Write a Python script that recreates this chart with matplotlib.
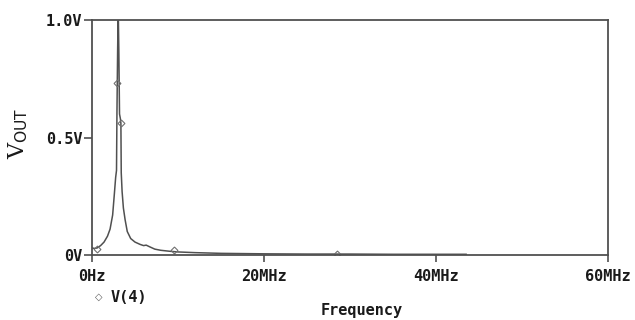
import matplotlib
matplotlib.use("Agg")
import matplotlib.pyplot as plt

# Data (MHz, volts)
freq_mhz = [0.0, 0.3, 0.6, 1.0, 1.4, 1.8, 2.1, 2.4, 2.6, 2.75, 2.85, 2.9, 2.98, 3.05,
            3.12, 3.2, 3.3, 3.36, 3.4, 3.5, 3.65, 3.85, 4.1, 4.5, 5.0, 5.6, 6.0, 6.3,
            6.7, 7.3, 8.0, 9.0, 10.0, 12.0, 15.0, 20.0, 25.0, 30.0, 35.0, 40.0, 43.5]
vout = [0.03, 0.028, 0.03, 0.04, 0.055, 0.08, 0.11, 0.17, 0.26, 0.33, 0.36, 0.6, 0.87, 1.05,
        0.87, 0.6, 0.58, 0.56, 0.35, 0.27, 0.2, 0.15, 0.1, 0.07, 0.055, 0.045, 0.04, 0.042,
        0.035, 0.025, 0.02, 0.016, 0.013, 0.01, 0.007, 0.005, 0.004, 0.004, 0.003, 0.003, 0.003]
marker_freq = [0.6, 2.85, 3.35, 9.5, 28.5]
marker_v = [0.025, 0.73, 0.56, 0.02, 0.005]

x_ticks = [0, 20, 40, 60]
x_tick_labels = ["0Hz", "20MHz", "40MHz", "60MHz"]
y_ticks = [0.0, 0.5, 1.0]
y_tick_labels = ["0V", "0.5V", "1.0V"]

fig = plt.figure(figsize=(6.35, 3.2), dpi=100)
ax = fig.add_axes([92/635, 65/320, (608-92)/635, (255-20)/320])
col = "#505050"
txtcol = "#1a1a1a"
ax.plot(freq_mhz, vout, color=col, lw=1.1, clip_on=True)
ax.plot(marker_freq, marker_v, ls="none", marker="D", ms=3.5, mfc="none", mec="#707070", mew=0.8)
ax.set_xlim(0, 60)
ax.set_ylim(0, 1.0)
ax.set_xticks(x_ticks)
ax.set_xticklabels(x_tick_labels)
ax.set_yticks(y_ticks)
ax.set_yticklabels(y_tick_labels)
mono = {"family": "DejaVu Sans Mono", "weight": "bold", "size": 11}
for lab in ax.get_xticklabels() + ax.get_yticklabels():
    lab.set_fontfamily("DejaVu Sans Mono")
    lab.set_fontweight("bold")
    lab.set_fontsize(11)
    lab.set_color(txtcol)
ax.tick_params(axis="y", direction="out", length=6, width=1.2, color=col, pad=1)
ax.tick_params(axis="x", direction="out", length=5, width=1.2, color=col, pad=5)
for s in ax.spines.values():
    s.set_color(col)
    s.set_linewidth(1.3)

fig.text(18/635, 1 - 133/320, r"V$_{\mathrm{OUT}}$", rotation=90, ha="center", va="center",
         family="DejaVu Serif", fontsize=16, color=txtcol)
fig.text(362/635, 1 - 310/320, "Frequency", ha="center", va="center", **mono, color=txtcol)
fig.text(99/635, 1 - 297/320, "◇", ha="center", va="center", family="DejaVu Sans", fontsize=7, color="#555555")
fig.text(111/635, 1 - 297/320, "V(4)", ha="left", va="center", **mono, color=txtcol)

fig.savefig("out.png", dpi=100, facecolor="white")
